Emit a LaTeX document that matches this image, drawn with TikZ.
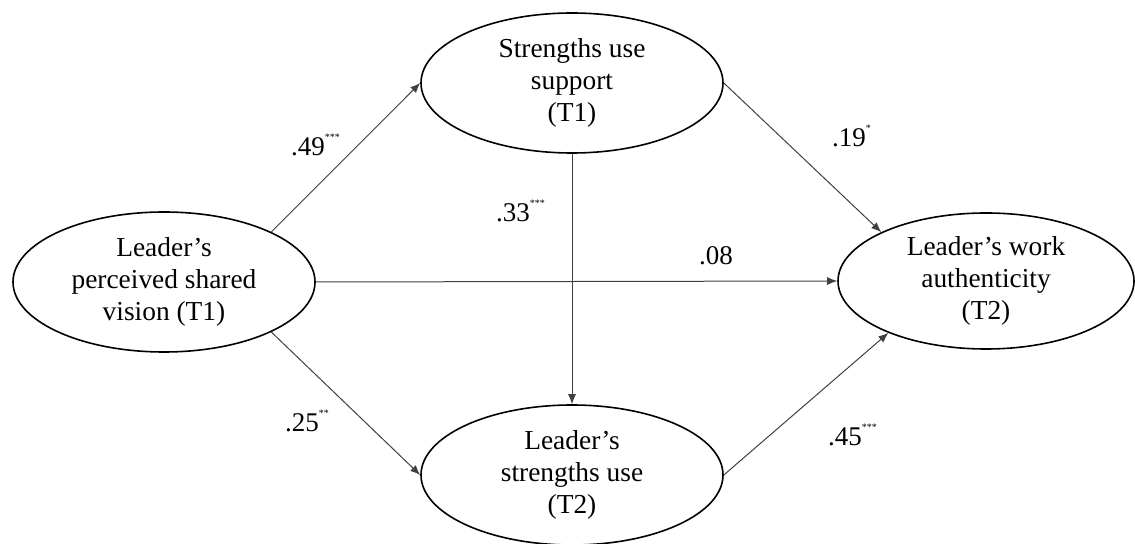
\documentclass[tikz,border=0pt]{standalone}
\usepackage{fontspec}
\setmainfont{Liberation Serif}
\usetikzlibrary{shapes.geometric,arrows.meta}
\newcommand{\sigstars}[1]{\rlap{\smash{\raisebox{0.55em}{\fontsize{5}{5}\selectfont #1}}}}
\tikzset{
  latent/.style={ellipse, draw=black, line width=0.8pt, minimum width=151pt, minimum height=70pt, inner sep=0pt, align=center, font=\fontsize{13.7}{16}\selectfont},
  path/.style={draw=black!75, line width=0.5pt, -{Latex[length=5pt,width=4pt]}},
  coef/.style={inner sep=0pt, font=\fontsize{13.5}{16}\selectfont}
}
\begin{document}
\begin{tikzpicture}[x=0.5pt,y=-0.5pt]
\useasboundingbox (0,0) rectangle (1135,544);
\node[latent] (L) at (164,282) {Leader's\\perceived shared\\vision (T1)};
\node[latent] (T) at (572,83) {Strengths use\\support\\(T1)};
\node[latent] (B) at (572,475) {Leader's\\strengths use\\(T2)};
\node[latent, minimum width=148pt, minimum height=68pt] (R) at (986,281) {Leader's work\\authenticity\\(T2)};
\draw[path] (L.25) -- (T.west);
\draw[path] (T.east) -- (R.155);
\draw[path] (L.east) -- (R.west);
\draw[path] (T.south) -- (B.north);
\draw[path] (L.-25) -- (B.west);
\draw[path] (B.east) -- (R.208);
\node[coef] (c49) at (308,147) {.49\sigstars{***}};
\node[coef] (c19) at (849,138) {.19\sigstars{*}};
\node[coef] (c33) at (513,213) {.33\sigstars{***}};
\node[coef] (c08) at (716,256) {.08};
\node[coef] (c25) at (302,423) {.25\sigstars{**}};
\node[coef] (c45) at (845,437) {.45\sigstars{***}};
\end{tikzpicture}
\end{document}
